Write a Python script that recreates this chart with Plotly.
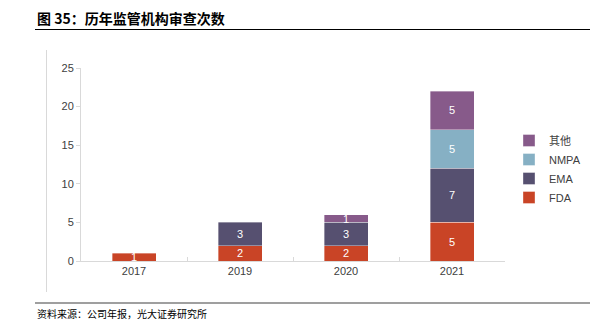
import plotly.graph_objects as go

# Data
years = ["2017", "2019", "2020", "2021"]
fda = [1, 2, 2, 5]
ema = [0, 3, 3, 7]
nmpa = [0, 0, 0, 5]
other = [0, 0, 1, 5]

series = [
    ("FDA", fda, "#C94426"),
    ("EMA", ema, "#565070"),
    ("NMPA", nmpa, "#86B0C4"),
    ("其他", other, "#875A8A"),
]

W, H = 606, 332
L, R, T, B = 81, 101, 68, 71
PW, PH = W - L - R, H - T - B


def px_x(p):
    return (p - L) / PW


def px_y(p):
    return (H - B - p) / PH


FONT = "Liberation Sans, Arial, sans-serif"
CJK = "Noto Sans CJK SC, sans-serif"

fig = go.Figure()
for name, vals, color in series:
    fig.add_bar(
        x=years,
        y=[v if v else None for v in vals],
        name=name,
        marker=dict(color=color, line=dict(color="rgba(255,255,255,0.6)", width=0.6)),
        text=[str(v) if v else "" for v in vals],
        textposition="inside",
        insidetextanchor="middle",
        textangle=0,
        constraintext="none",
        textfont=dict(color="white", size=11, family=FONT),
        cliponaxis=True,
    )

fig.update_layout(
    width=W,
    height=H,
    barmode="stack",
    bargap=0.585,
    margin=dict(l=L, r=R, t=T, b=B, autoexpand=False),
    paper_bgcolor="white",
    plot_bgcolor="white",
    font=dict(family=FONT, size=11, color="#404040"),
    uniformtext=dict(minsize=11, mode="show"),
    showlegend=True,
    legend=dict(
        traceorder="reversed",
        xref="container",
        yref="container",
        x=509 / W,
        y=1 - 126 / H,
        xanchor="left",
        yanchor="top",
        font=dict(family=FONT + ", " + CJK, size=11, color="#404040"),
        itemwidth=30,
        bgcolor="rgba(0,0,0,0)",
    ),
    xaxis=dict(
        type="category",
        showline=True,
        linecolor="#d9d9d9",
        linewidth=1,
        ticks="inside",
        tickson="boundaries",
        ticklen=4,
        tickcolor="#d9d9d9",
        showgrid=False,
        tickfont=dict(size=11, color="#404040"),
    ),
    yaxis=dict(
        range=[0, 25],
        dtick=5,
        showline=True,
        linecolor="#d9d9d9",
        linewidth=1,
        ticks="outside",
        ticklen=4,
        tickcolor="#d9d9d9",
        showgrid=False,
        zeroline=False,
        tickfont=dict(size=11, color="#404040"),
    ),
)

# Title and source text
fig.add_annotation(
    text="<b>图 35：历年监管机构审查次数</b>",
    xref="paper", yref="paper",
    x=px_x(35), y=px_y(18),
    xanchor="left", yanchor="middle",
    showarrow=False,
    font=dict(family=CJK, size=14, color="#000000"),
)
fig.add_annotation(
    text="资料来源：公司年报，光大证券研究所",
    xref="paper", yref="paper",
    x=px_x(35), y=px_y(313),
    xanchor="left", yanchor="middle",
    showarrow=False,
    font=dict(family=CJK, size=10, color="#000000"),
)

# Rules above and below the chart, and the chart frame edge
fig.add_shape(type="line", xref="paper", yref="paper",
              x0=px_x(35), x1=px_x(590), y0=px_y(29.5), y1=px_y(29.5),
              line=dict(color="#000000", width=1))
fig.add_shape(type="line", xref="paper", yref="paper",
              x0=px_x(35), x1=px_x(590), y0=px_y(303), y1=px_y(303),
              line=dict(color="#7f7f7f", width=1.5))
fig.add_shape(type="line", xref="paper", yref="paper",
              x0=px_x(46.5), x1=px_x(46.5), y0=px_y(50), y1=px_y(292),
              line=dict(color="#d9d9d9", width=1))

fig.write_html("out.html")
